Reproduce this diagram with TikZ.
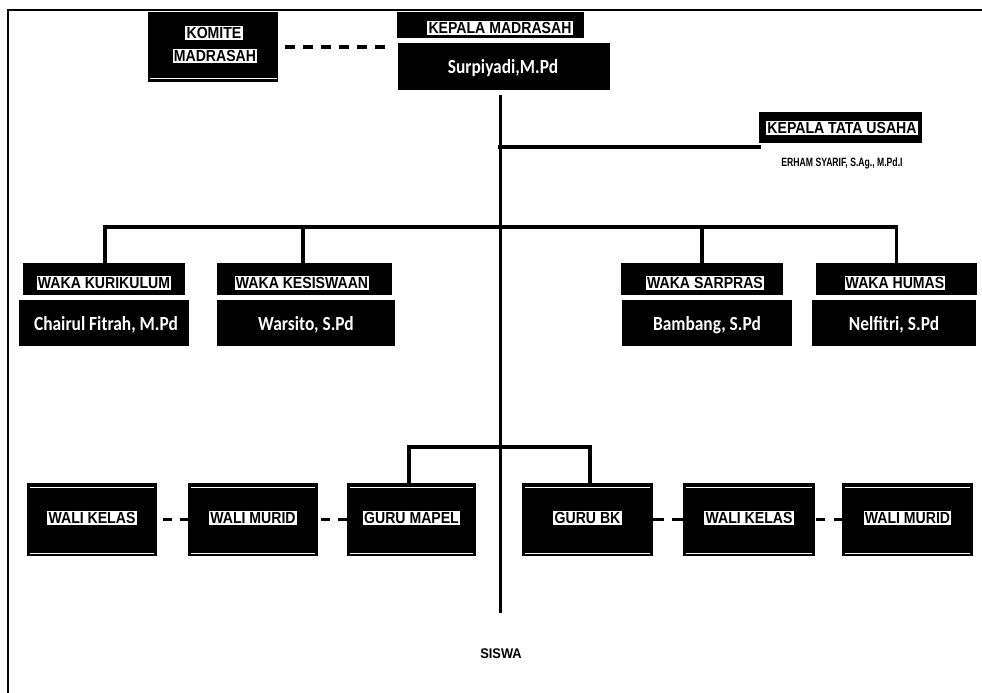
\documentclass[tikz,border=0pt]{standalone}
\usepackage{fontspec}
\newfontfamily\hdrfont[FakeStretch=0.88]{Liberation Sans}
\newfontfamily\sisfont[FakeStretch=0.92]{Liberation Sans}
\newfontfamily\condfont[FakeStretch=0.72]{Liberation Sans}
\newfontfamily\namefont[FakeStretch=0.87]{Carlito}
\tikzset{
  blk/.style={fill=black, draw=none, inner sep=0pt},
  lbl/.style={fill=white, text=black, inner xsep=1.2pt, inner ysep=1.6pt, font=\hdrfont\bfseries\fontsize{16}{17}\selectfont},
  nm/.style={text=white, font=\namefont\bfseries\fontsize{20}{22}\selectfont, inner sep=0pt},
  conn/.style={line width=3.5pt, line cap=rect},
  dconn/.style={line width=3.5pt, dash pattern=on 10pt off 8pt},
  wl/.style={draw=white, line width=0.8pt},
}
\begin{document}
\begin{tikzpicture}[x=1pt, y=-1pt]
\useasboundingbox[fill=white] (0,0) rectangle (982,693);
% frame
\draw[line width=2.2pt] (8,693) -- (8,10) -- (982,10);

% top row
\node[blk, minimum width=130pt, minimum height=70pt] (komite) at (213,47) {};
\draw[wl] (150,78) -- (277,78);
\node[lbl] (komiteA) at (214,33) {KOMITE};
\node[lbl] (komiteB) at (215,56) {MADRASAH};

\node[blk, minimum width=187pt, minimum height=26pt] (kmhead) at (490.5,25) {};
\node[lbl] (kmheadt) at (500,28) {KEPALA MADRASAH};
\node[blk, minimum width=212pt, minimum height=47pt] (kmname) at (504,66.5) {};
\node[nm] (kmnamet) at (503,68) {Surpiyadi,M.Pd};

% kepala tata usaha
\node[blk, minimum width=163pt, minimum height=31pt] (ktu) at (840.5,127.5) {};
\node[lbl] (ktut) at (842,128) {KEPALA TATA USAHA};
\node[font=\condfont\bfseries\fontsize{12}{13}\selectfont, inner sep=0pt] (erham) at (842,163) {ERHAM SYARIF, S.Ag., M.Pd.I};

% waka headers and names
\node[blk, minimum width=162pt, minimum height=32pt] (kurh) at (104,279) {};
\node[lbl] (kurht) at (104,283) {WAKA KURIKULUM};
\node[blk, minimum width=170pt, minimum height=46pt] (kurn) at (104,323) {};
\node[nm] (kurnt) at (106,325) {Chairul Fitrah, M.Pd};

\node[blk, minimum width=175pt, minimum height=32pt] (kesh) at (304.5,279) {};
\node[lbl] (kesht) at (302,283) {WAKA KESISWAAN};
\node[blk, minimum width=178pt, minimum height=46pt] (kesn) at (306,323) {};
\node[nm] (kesnt) at (306,325) {Warsito, S.Pd};

\node[blk, minimum width=162pt, minimum height=32pt] (sarh) at (702,279) {};
\node[lbl] (sarht) at (705,283) {WAKA SARPRAS};
\node[blk, minimum width=170pt, minimum height=46pt] (sarn) at (707,323) {};
\node[nm] (sarnt) at (707,325) {Bambang, S.Pd};

\node[blk, minimum width=161pt, minimum height=32pt] (humh) at (896.5,279) {};
\node[lbl] (humht) at (895,283) {WAKA HUMAS};
\node[blk, minimum width=164pt, minimum height=46pt] (humn) at (894,323) {};
\node[nm] (humnt) at (894,325) {Nelfitri, S.Pd};

% bottom row
\foreach \n/\cx/\w/\t in {wka/92/130/WALI KELAS, wma/253/130/WALI MURID, gm/411.5/129/GURU MAPEL, gbk/587.5/131/GURU BK, wkb/749/132/WALI KELAS, wmb/907.5/131/WALI MURID}{
  \node[blk, minimum width=\w pt, minimum height=73pt] (\n) at (\cx,519.5) {};
  \draw[wl] ([xshift=3pt,yshift=-5pt]\n.north west) -- ([xshift=-3pt,yshift=-5pt]\n.north east);
  \draw[wl] ([xshift=3pt,yshift=2.5pt]\n.south west) -- ([xshift=-3pt,yshift=2.5pt]\n.south east);
  \node[lbl] (\n t) at (\cx,518) {\t};
}

\node[font=\sisfont\bfseries\fontsize{14}{15}\selectfont, inner sep=0pt] (siswa) at (501,654) {SISWA};

% connectors
\coordinate (trunkend) at (500,613);
\coordinate (j1) at (500,227);
\coordinate (j2) at (500,447);
\coordinate (j3) at (500,147);
\draw[line width=3pt] (kmname.south) ++(-4,5) coordinate (trunktop) -- (trunkend);
\draw[conn] ([xshift=1pt]kurh.north) |- (j1) -| (humh.north);
\draw[conn] ([xshift=-1.5pt]kesh.north) |- (j1);
\draw[conn] (sarh.north) |- (j1);
\draw[conn] (j3) -- (j3 -| ktu.west);
\draw[conn] ([xshift=-2.5pt]gm.north) |- (j2) -| ([xshift=2.5pt]gbk.north);

% dashed links
\draw[dconn, shorten <=7pt, shorten >=6pt] (komite.east) -- (komite.east -| kmname.west);
\draw[dconn, dash pattern=on 9pt off 8pt, dash phase=-6pt] (wka.east) -- (wma.west);
\draw[dconn, dash pattern=on 9pt off 8pt, dash phase=-3pt] (wma.east) -- (gm.west);
\draw[dconn, dash pattern=on 11pt off 8pt] (gbk.east) -- (wkb.west);
\draw[dconn, dash pattern=on 9pt off 9pt, dash phase=-1pt] (wkb.east) -- (wmb.west);
\end{tikzpicture}
\end{document}
